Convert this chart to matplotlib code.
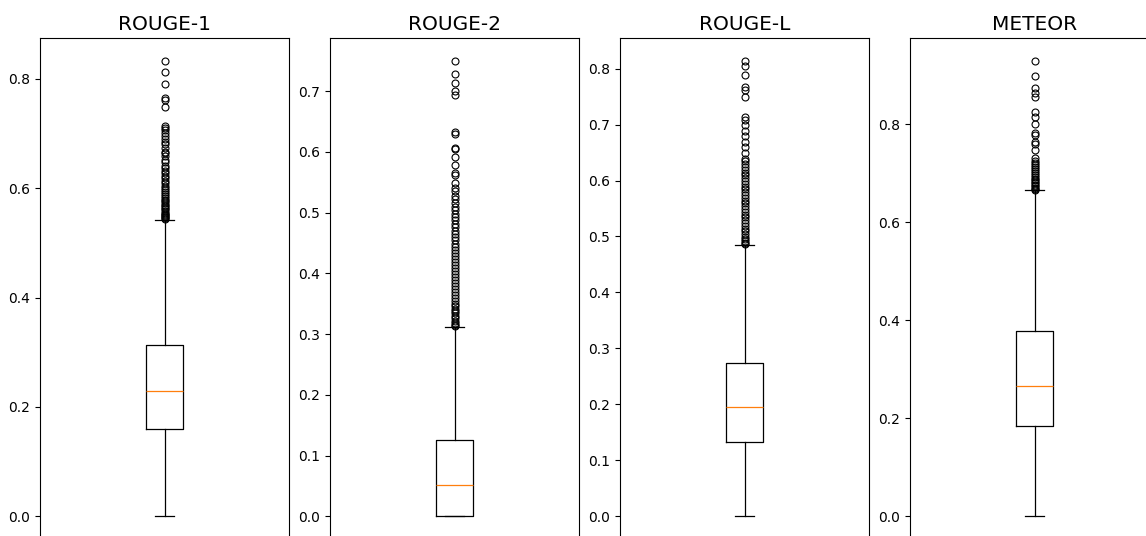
import matplotlib
matplotlib.use("Agg")
import matplotlib.pyplot as plt

# Metrics shown, one panel each
metrics = ["ROUGE-1", "ROUGE-2", "ROUGE-L", "METEOR"]

# Box statistics
q1 = [0.159, 0.0, 0.132, 0.184]
medians = [0.229, 0.051, 0.195, 0.265]
q3 = [0.313, 0.125, 0.273, 0.378]
whisker_lo = [0.0, 0.0, 0.0, 0.0]
whisker_hi = [0.542, 0.311, 0.484, 0.665]

# Outliers (approximate)
fliers_rouge1 = [0.833, 0.813, 0.790, 0.765, 0.762, 0.749, 0.714, 0.710, 0.706,
                 0.700, 0.696, 0.690, 0.684, 0.680, 0.673, 0.666, 0.665, 0.658,
                 0.652, 0.648, 0.641, 0.636, 0.632, 0.627, 0.622, 0.618, 0.613,
                 0.609, 0.604, 0.600, 0.597, 0.593, 0.589, 0.586, 0.582, 0.579,
                 0.576, 0.573, 0.570, 0.567, 0.564, 0.561, 0.558, 0.555, 0.553,
                 0.551, 0.549, 0.547, 0.545, 0.544]
fliers_rouge2 = [0.750, 0.729, 0.714, 0.701, 0.694, 0.633, 0.630, 0.607, 0.604,
                 0.592, 0.578, 0.566, 0.562, 0.548, 0.541, 0.535, 0.528, 0.522,
                 0.516, 0.510, 0.504, 0.498, 0.492, 0.487, 0.481, 0.476, 0.470,
                 0.465, 0.460, 0.455, 0.449, 0.444, 0.439, 0.434, 0.429, 0.424,
                 0.419, 0.414, 0.409, 0.404, 0.399, 0.394, 0.389, 0.384, 0.379,
                 0.374, 0.369, 0.364, 0.359, 0.354, 0.350, 0.346, 0.342, 0.338,
                 0.334, 0.330, 0.326, 0.322, 0.318, 0.315, 0.313]
fliers_rougel = [0.814, 0.805, 0.789, 0.767, 0.762, 0.749, 0.714, 0.709, 0.700,
                 0.689, 0.679, 0.668, 0.659, 0.650, 0.639, 0.634, 0.629, 0.624,
                 0.619, 0.614, 0.609, 0.604, 0.599, 0.594, 0.589, 0.584, 0.579,
                 0.574, 0.569, 0.564, 0.559, 0.554, 0.549, 0.544, 0.539, 0.534,
                 0.529, 0.524, 0.519, 0.514, 0.509, 0.504, 0.499, 0.495, 0.491,
                 0.488, 0.486]
fliers_meteor = [0.929, 0.898, 0.873, 0.863, 0.856, 0.825, 0.815, 0.801, 0.782,
                 0.778, 0.764, 0.759, 0.747, 0.730, 0.725, 0.720, 0.716, 0.712,
                 0.708, 0.704, 0.700, 0.696, 0.692, 0.688, 0.685, 0.682, 0.679,
                 0.676, 0.673, 0.670, 0.668, 0.666]
fliers = [fliers_rouge1, fliers_rouge2, fliers_rougel, fliers_meteor]

dpi = 100
W, H = 1146, 536
fig = plt.figure(figsize=(W / dpi, H / dpi), dpi=dpi)

for i, name in enumerate(metrics):
    left = 40 + 290 * i
    # the panels run a little past the bottom and right edge, as in the original crop
    ax = fig.add_axes([left / W, (H - 539) / H, 249 / W, 501 / H])
    stats = [{
        "med": medians[i],
        "q1": q1[i],
        "q3": q3[i],
        "whislo": whisker_lo[i],
        "whishi": whisker_hi[i],
        "fliers": fliers[i],
    }]
    ax.bxp(stats, positions=[1], widths=0.15,
           boxprops=dict(linewidth=0.9),
           whiskerprops=dict(linewidth=0.9),
           capprops=dict(linewidth=0.9),
           medianprops=dict(linewidth=0.9),
           flierprops=dict(markersize=5, markeredgewidth=0.8))
    ax.set_xlim(0.5, 1.5)
    ax.set_xticks([])
    ax.tick_params(axis="y", labelsize=10, length=3.5, width=0.8)
    for s in ax.spines.values():
        s.set_linewidth(0.8)
    ax.set_title(name, fontsize=14.5)

fig.savefig("out.png", dpi=dpi)
